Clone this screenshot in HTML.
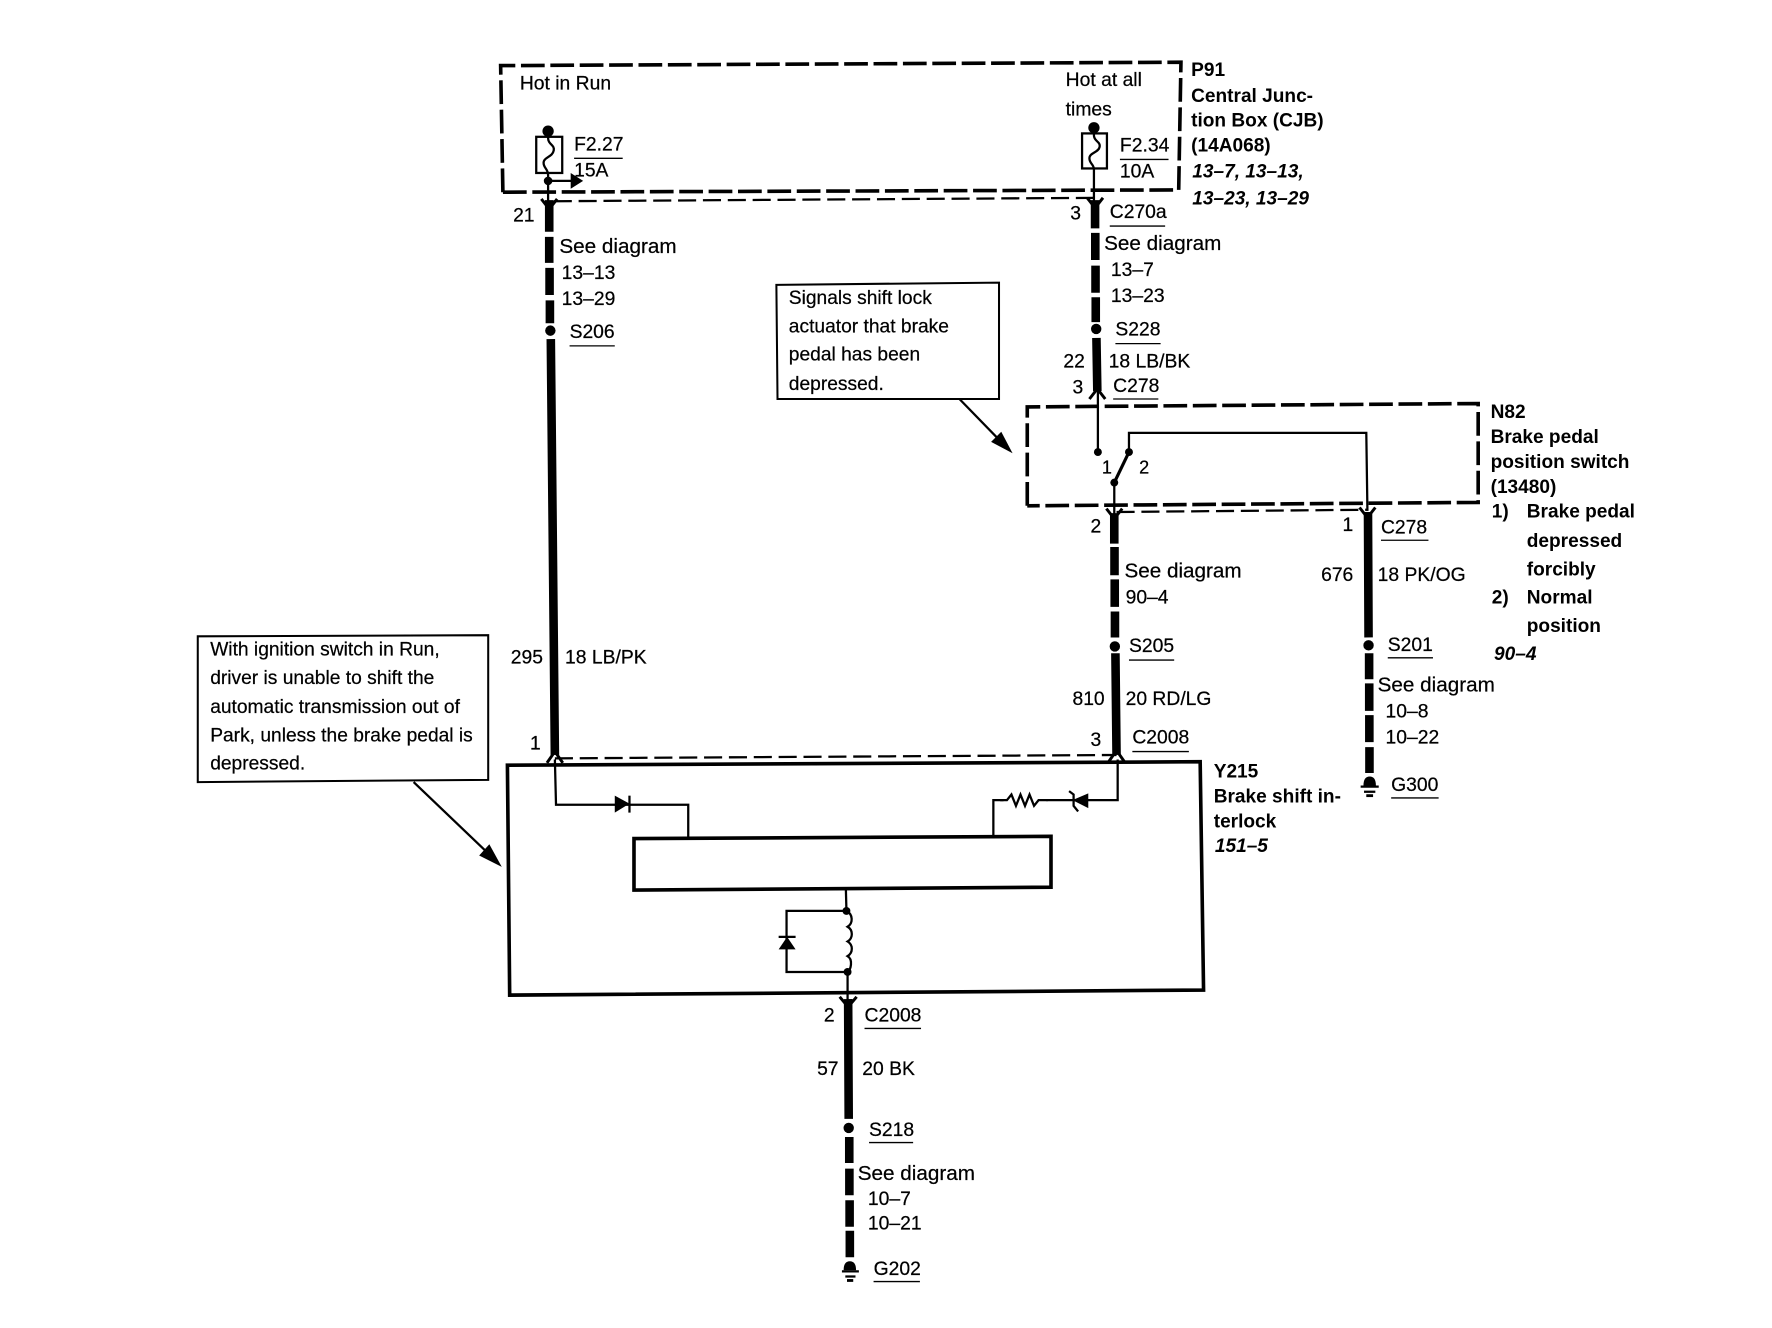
<!DOCTYPE html>
<html><head><meta charset="utf-8"><title>Brake shift interlock</title>
<style>
html,body{margin:0;padding:0;background:#fff;width:1772px;height:1328px;overflow:hidden}
svg{display:block}
text{font-family:"Liberation Sans",sans-serif;font-size:17.1px;fill:#000;stroke:#000;stroke-width:.2}
.s{font-size:18.3px}
.b{font-weight:bold;font-size:16.9px;stroke:none}
.i{font-weight:bold;font-style:italic;font-size:16.9px;stroke:none}
.d{fill:none;stroke:#000;stroke-width:3.2;stroke-dasharray:21 5}
.c{fill:none;stroke:#000;stroke-width:2;stroke-dasharray:16 6}
.t{fill:none;stroke:#000;stroke-width:2}
.m{fill:none;stroke:#000;stroke-width:3.2}
.w{fill:none;stroke:#000;stroke-width:7.6}
.f{fill:none;stroke:#000;stroke-width:2.6}
.u{stroke:#000;stroke-width:1.2}
</style></head><body>
<svg xmlns="http://www.w3.org/2000/svg" width="1772" height="1328" viewBox="0 0 1568 1175">
<!-- P91 box -->
<polyline class="d" points="445,170 443,58 1045,55 1043,168 445,170"/>
<line class="c" x1="490" y1="178" x2="968" y2="175"/>
<text x="460" y="79">Hot in Run</text>
<text x="943" y="76">Hot at all</text>
<text x="943" y="102">times</text>
<g class="t">
<rect x="474.5" y="121" width="23" height="32"/>
<path d="M485,116V122C485,128 491,128 490,133C489,139 481,139 481,144C481,149 485,149 485,155V178"/>
<rect x="957.5" y="118" width="22" height="31"/>
<path d="M968,112V120C968,125 974,125 973,130C972,135 964,135 964,140C964,145 968,145 968,150V178"/>
<path d="M485,160H506"/>
</g>
<circle cx="485" cy="116" r="5"/><circle cx="968" cy="113" r="5"/><circle cx="485" cy="160" r="3.8"/>
<path d="M505,153L516,160L505,167Z"/>
<text x="508" y="133">F2.27</text><line class="u" x1="508" y1="140" x2="551" y2="140"/>
<text x="508" y="156">15A</text>
<text x="991" y="134">F2.34</text><line class="u" x1="991" y1="141" x2="1034" y2="141"/>
<text x="991" y="157">10A</text>
<text class="b" x="1054" y="67">P91</text>
<text class="b" x="1054" y="90">Central Junc-</text>
<text class="b" x="1054" y="112">tion Box (CJB)</text>
<text class="b" x="1054" y="134">(14A068)</text>
<text class="i" x="1055" y="157">13–7, 13–13,</text>
<text class="i" x="1055" y="181">13–23, 13–29</text>
<!-- Wire A -->
<path class="w" d="M486,177V205M486,209.5V232.5M486.3,237V261M486.6,265.7V286M487.4,300L491,668"/>
<circle cx="487" cy="292.5" r="4.6"/>
<path class="f" d="M479,176L486,185L493,176"/>
<text x="454" y="196">21</text>
<text class="s" x="495" y="224">See diagram</text>
<text x="497" y="247">13–13</text>
<text x="497" y="270">13–29</text>
<text x="504" y="299">S206</text><line class="u" x1="504" y1="306" x2="544" y2="306"/>
<text x="452" y="587">295</text>
<text x="500" y="587">18 LB/PK</text>
<text x="469" y="663">1</text>
<!-- Wire B -->
<path class="w" d="M969,177V202M969.2,206V230M969.4,235V259M969.6,263V285M970.2,299L971,346"/>
<circle cx="970" cy="291" r="4.6"/>
<line class="t" x1="971.5" y1="345" x2="971.5" y2="400"/>
<circle cx="971.5" cy="400" r="3.5"/>
<path class="f" d="M964,353L971,344L978,353"/>
<path class="f" d="M962,175L969,184L976,175"/>
<text x="947" y="194">3</text>
<text x="982" y="193">C270a</text><line class="u" x1="982" y1="200" x2="1031" y2="200"/>
<text class="s" x="977" y="221">See diagram</text>
<text x="983" y="244">13–7</text>
<text x="983" y="267">13–23</text>
<text x="987" y="297">S228</text><line class="u" x1="987" y1="304" x2="1027" y2="304"/>
<text x="941" y="325">22</text>
<text x="981" y="325">18 LB/BK</text>
<text x="949" y="348">3</text>
<text x="985" y="347">C278</text><line class="u" x1="985" y1="353" x2="1025" y2="353"/>
<!-- callout 1 -->
<polygon class="t" points="687,252 884,250 884,353 688,353" style="fill:#fff;stroke-width:1.8"/>
<text x="698" y="269" style="font-size:17px">Signals shift lock</text>
<text x="698" y="294" style="font-size:17px">actuator that brake</text>
<text x="698" y="319" style="font-size:17px">pedal has been</text>
<text x="698" y="345" style="font-size:17px">depressed.</text>
<line class="t" x1="849" y1="353" x2="885" y2="390"/>
<path d="M896,401L877,391L886,382Z"/>
<!-- N82 box -->
<polyline class="d" points="909,447.5 909,360 1308,357 1308,444.5 909,447.5"/>
<line class="c" x1="988" y1="453" x2="1210" y2="451"/>
<text class="b" x="1319" y="370">N82</text>
<text class="b" x="1319" y="392">Brake pedal</text>
<text class="b" x="1319" y="414">position switch</text>
<text class="b" x="1319" y="436">(13480)</text>
<text class="b" x="1320" y="458">1)</text>
<text class="b" x="1351" y="458">Brake pedal</text>
<text class="b" x="1351" y="484">depressed</text>
<text class="b" x="1351" y="509">forcibly</text>
<text class="b" x="1320" y="534">2)</text>
<text class="b" x="1351" y="534">Normal</text>
<text class="b" x="1351" y="559">position</text>
<text class="i" x="1322" y="584">90–4</text>
<!-- switch -->
<path class="t" d="M999,400V383H1209L1210,452"/>
<circle cx="999" cy="400" r="3.5"/><circle cx="986" cy="427" r="3.5"/>
<line class="t" style="stroke-width:2.8" x1="986" y1="427" x2="999" y2="400"/>
<line class="t" x1="986" y1="427" x2="986" y2="456"/>
<text x="975" y="419" style="font-size:16px">1</text>
<text x="1008" y="419" style="font-size:16px">2</text>
<!-- Wire C -->
<path class="w" d="M986,454V481M986.2,484V509M986.4,512.6V537M986.6,541V564M987,578L988,668"/>
<circle cx="986.5" cy="572" r="4.6"/>
<path class="f" d="M979,450L986,459L993,450"/>
<text x="965" y="471">2</text>
<text class="s" x="995" y="511">See diagram</text>
<text x="996" y="534">90–4</text>
<text x="999" y="577">S205</text><line class="u" x1="999" y1="584" x2="1039" y2="584"/>
<text x="949" y="624">810</text>
<text x="996" y="624">20 RD/LG</text>
<text x="965" y="660">3</text>
<text x="1002" y="658">C2008</text><line class="u" x1="1002" y1="665" x2="1052" y2="665"/>
<!-- Wire D -->
<path class="w" d="M1210.5,453L1211,564M1211.5,578V601M1211.6,604.6V629M1211.7,632.7V656.6M1211.8,661V684"/>
<circle cx="1211" cy="571" r="4.6"/>
<path class="f" d="M1203,449L1210,458L1217,449"/>
<path d="M1206.5,695Q1206.5,687 1212,687Q1217.5,687 1217.5,695Z"/>
<path class="t" d="M1204,696H1220M1207,700.5H1217"/><path class="t" style="stroke-width:2.5" d="M1209,704H1215"/>
<text x="1188" y="470">1</text>
<text x="1222" y="472">C278</text><line class="u" x1="1222" y1="478" x2="1264" y2="478"/>
<text x="1169" y="514">676</text>
<text x="1219" y="514">18 PK/OG</text>
<text x="1228" y="576">S201</text><line class="u" x1="1228" y1="582" x2="1268" y2="582"/>
<text class="s" x="1219" y="612">See diagram</text>
<text x="1226" y="635">10–8</text>
<text x="1226" y="658">10–22</text>
<text x="1231" y="700">G300</text><line class="u" x1="1231" y1="706" x2="1273" y2="706"/>
<!-- Y215 box -->
<polygon class="m" points="449,677 1062,674 1065,876 451,880.5"/>
<line class="c" x1="491" y1="671" x2="988" y2="668"/>
<polygon class="m" points="561,742 930,740 930,785 561,787.5"/>
<path class="t" d="M491,672L492,712H609V742"/>
<path class="t" d="M989,672V708H879V740"/>
<path d="M544,704L557,711L544,719Z"/><line class="t" x1="557" y1="704" x2="557" y2="719"/>
<path d="M963,702L949,708L963,715Z"/>
<path class="t" d="M946,700L950,703V713L954,718"/>
<path fill="#fff" d="M888,701H926V714H888Z"/>
<polyline class="t" points="885,708 891,708 895,703 899,713 903,703 907,713 911,703 915,713 919,708 927,708"/>
<path class="t" d="M748.5,787L749,806"/>
<path class="t" d="M749,806C755,809 755,817 750,820C755,823 755,830 750,833C755,836 755,843 750,846C755,849 753,858 750,860"/>
<path class="t" d="M750,860V885"/>
<path class="t" d="M749,806H696V860H750"/>
<circle cx="749" cy="806" r="3.5"/><circle cx="750" cy="860" r="3.5"/>
<path d="M689,840L696.5,829L704,840Z"/><line class="t" x1="689" y1="829" x2="704" y2="829"/>
<path class="f" d="M484,675L491,665L498,675"/>
<path class="f" d="M981,674L988,664L995,674"/>
<text class="b" x="1074" y="688">Y215</text>
<text class="b" x="1074" y="710">Brake shift in-</text>
<text class="b" x="1074" y="732">terlock</text>
<text class="i" x="1075" y="754">151–5</text>
<!-- callout 2 -->
<polygon class="t" points="175,563 432,562 432,690 175,692" style="fill:#fff;stroke-width:1.8"/>
<text x="186" y="580" style="font-size:17px">With ignition switch in Run,</text>
<text x="186" y="605" style="font-size:17px">driver is unable to shift the</text>
<text x="186" y="631" style="font-size:17px">automatic transmission out of</text>
<text x="186" y="656" style="font-size:17px">Park, unless the brake pedal is</text>
<text x="186" y="681" style="font-size:17px">depressed.</text>
<line class="t" x1="366" y1="692" x2="433" y2="756"/>
<path d="M444,767L424,757L433,747Z"/>
<!-- Wire E -->
<path class="w" d="M750.5,884L751,990M751.5,1006V1029M751.6,1034V1057.6M751.8,1062V1085.5M752,1089V1112.5"/>
<circle cx="751" cy="998" r="4.6"/>
<path class="f" d="M743,882L750.5,891L758,882"/>
<path d="M746.5,1124Q746.5,1116 752,1116Q757.5,1116 757.5,1124Z"/>
<path class="t" d="M745,1125H760M748,1129.5H757"/><path class="t" style="stroke-width:2.5" d="M749.5,1133H755"/>
<text x="729" y="904">2</text>
<text x="765" y="904">C2008</text><line class="u" x1="765" y1="910" x2="815" y2="910"/>
<text x="723" y="951">57</text>
<text x="763" y="951">20 BK</text>
<text x="769" y="1005">S218</text><line class="u" x1="769" y1="1011" x2="808" y2="1011"/>
<text class="s" x="759" y="1044">See diagram</text>
<text x="768" y="1066">10–7</text>
<text x="768" y="1088">10–21</text>
<text x="773" y="1128">G202</text><line class="u" x1="773" y1="1134" x2="814" y2="1134"/>
</svg>
</body></html>
